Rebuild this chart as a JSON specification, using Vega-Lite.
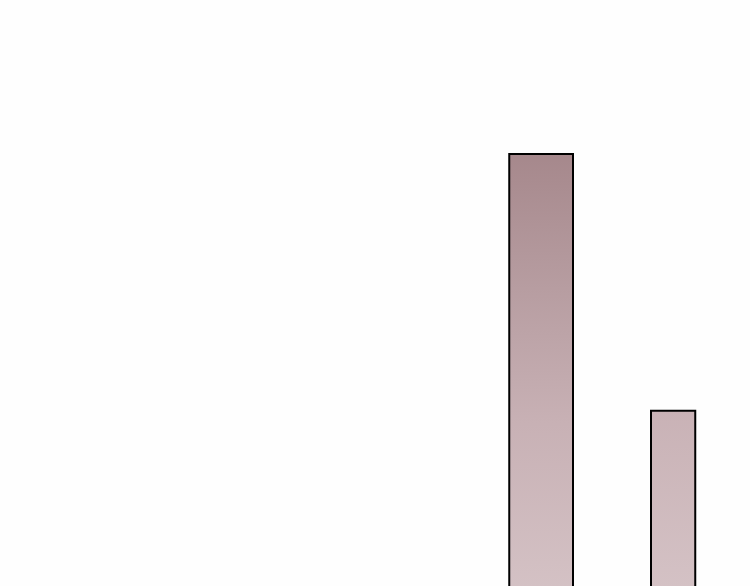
{
  "$schema": "https://vega.github.io/schema/vega-lite/v6.json",
  "width": 750,
  "height": 586,
  "autosize": {"type": "fit", "contains": "padding"},
  "padding": 0,
  "background": "#FEFEFE",
  "config": {"view": {"stroke": null}},
  "data": {
    "values": [
      {"bar": "A", "start": 67.9, "end": 76.4, "value": 73.7},
      {"bar": "B", "start": 86.8, "end": 92.7, "value": 29.9}
    ]
  },
  "encoding": {
    "x": {"field": "start", "type": "quantitative", "scale": {"domain": [0, 100]}, "axis": null},
    "x2": {"field": "end"},
    "y": {"field": "value", "type": "quantitative", "scale": {"domain": [0, 100]}, "axis": null},
    "y2": {"datum": -3}
  },
  "layer": [
    {
      "transform": [{"filter": "datum.bar == 'A'"}],
      "mark": {
        "type": "bar",
        "clip": true,
        "stroke": "black",
        "strokeWidth": 2,
        "color": {
          "gradient": "linear",
          "x1": 0, "y1": 0, "x2": 0, "y2": 1,
          "stops": [
            {"offset": 0, "color": "#a6888c"},
            {"offset": 0.3, "color": "#b79da1"},
            {"offset": 0.6, "color": "#c8b1b5"},
            {"offset": 1, "color": "#d5c3c6"}
          ]
        }
      }
    },
    {
      "transform": [{"filter": "datum.bar == 'B'"}],
      "mark": {
        "type": "bar",
        "clip": true,
        "stroke": "black",
        "strokeWidth": 2,
        "color": {
          "gradient": "linear",
          "x1": 0, "y1": 0, "x2": 0, "y2": 1,
          "stops": [
            {"offset": 0, "color": "#c9b2b6"},
            {"offset": 1, "color": "#d5c3c6"}
          ]
        }
      }
    }
  ]
}
